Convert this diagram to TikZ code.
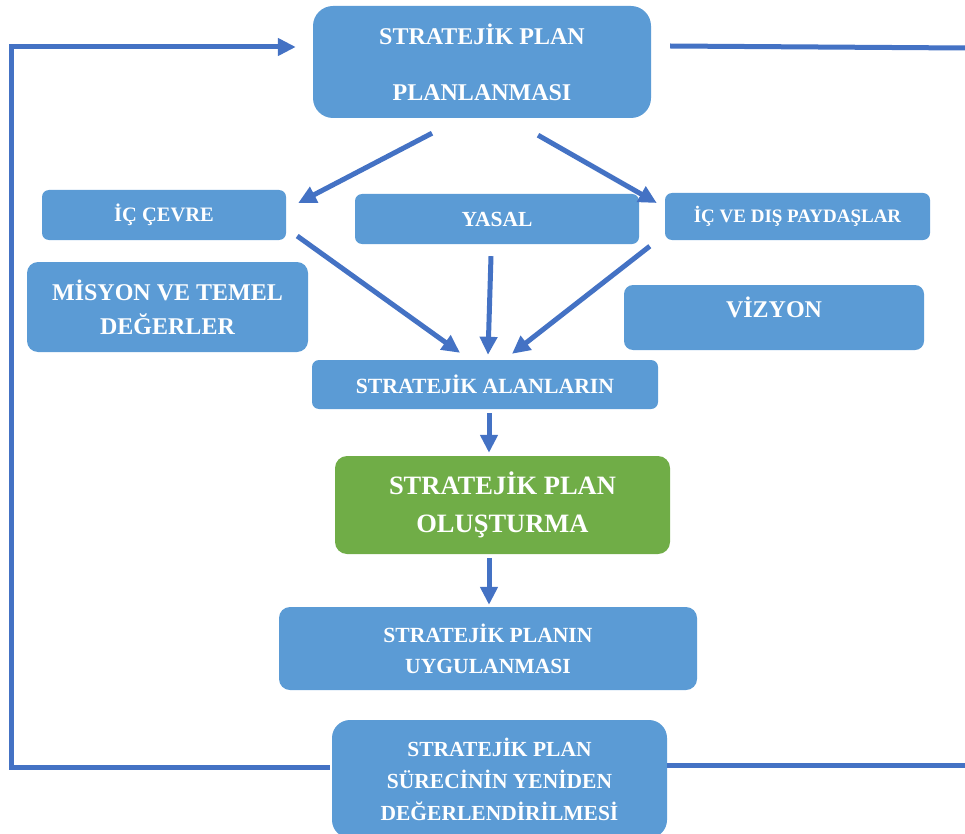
\documentclass[tikz,border=0pt]{standalone}
\usepackage{fontspec}
\setmainfont{Liberation Serif}
\usepackage{xcolor}
\usetikzlibrary{arrows.meta, calc}
\definecolor{boxblue}{HTML}{5B9BD5}
\definecolor{lineblue}{HTML}{4472C4}
\definecolor{boxgreen}{HTML}{70AD47}

\begin{document}
\begin{tikzpicture}[x=1pt, y=-1pt,
    box/.style={fill=boxblue, text=white, rounded corners=7pt, align=center, inner sep=0pt, font=\bfseries},
    greenbox/.style={box, fill=boxgreen},
    arr/.style={draw=lineblue, line width=5pt, -{Triangle[length=18pt, width=17pt]}},
    link/.style={draw=lineblue, line width=5pt}]
\path[use as bounding box, clip] (0,0) rectangle (965,834);

% Top box
\node[box, rounded corners=20pt, minimum width=338pt, minimum height=112pt,
    font=\bfseries\fontsize{24}{56}\selectfont] (plan) at (482,62) {STRATEJİK PLAN\\PLANLANMASI};

% Second row
\node[box, minimum width=244pt, minimum height=50pt,
    font=\bfseries\fontsize{20.5}{24}\selectfont] (cevre) at (164,215) {İÇ ÇEVRE};
\node[box, minimum width=284pt, minimum height=50pt,
    font=\bfseries\fontsize{21.5}{24}\selectfont] (yasal) at (497,219) {YASAL};
\node[box, minimum width=265pt, minimum height=47pt,
    font=\bfseries\fontsize{19}{22}\selectfont] (paydas) at (797.5,216.5) {İÇ VE DIŞ PAYDAŞLAR};

% Side boxes
\node[box, rounded corners=11pt, minimum width=281pt, minimum height=90pt,
    font=\bfseries\fontsize{24}{34}\selectfont] (misyon) at (167.5,307) {MİSYON VE TEMEL\\DEĞERLER};
\node[box, rounded corners=9pt, minimum width=300pt, minimum height=65pt,
    font=\bfseries\fontsize{24}{28}\selectfont] (vizyon) at (774,317.5) {\raisebox{0pt}[0pt][0pt]{VİZYON}};

% Middle column
\node[box, minimum width=346pt, minimum height=49pt,
    font=\bfseries\fontsize{21.7}{26}\selectfont] (alan) at (485,384.5) {STRATEJİK ALANLARIN};
\node[greenbox, rounded corners=12pt, minimum width=335pt, minimum height=98pt,
    font=\bfseries\fontsize{26.5}{38}\selectfont] (olustur) at (502.5,505) {STRATEJİK PLAN\\OLUŞTURMA};
\node[box, rounded corners=11pt, minimum width=418pt, minimum height=83pt,
    font=\bfseries\fontsize{21.6}{31}\selectfont] (uygula) at (488,648.5) {STRATEJİK PLANIN\\UYGULANMASI};
\node[box, rounded corners=18pt, minimum width=335pt, minimum height=118pt,
    font=\bfseries\fontsize{21.5}{32}\selectfont] (surec) at (499.5,779) {STRATEJİK PLAN\\SÜRECİNİN YENİDEN\\DEĞERLENDİRİLMESİ};

% Arrows
\draw[arr] ($(plan.south)+(-50,15)$) -- ($(cevre.east)+(12,-12)$);
\draw[arr] ($(plan.south)+(56,17)$) -- ($(paydas.west)+(-8,-13.5)$);
\draw[arr] ($(cevre.east)+(11,21)$) -- ($(alan.north)+(-25,-7)$);
\draw[arr] ($(yasal.south)+(-6,12)$) -- ($(alan.north)+(3,-5)$);
\draw[arr] ($(paydas.south west)+(-15,6)$) -- ($(alan.north)+(27,-6)$);
\draw[arr] ($(alan.south)+(4,4)$) -- ($(olustur.north)+(-13.5,-3)$);
\draw[arr] ($(olustur.south)+(-13.5,4)$) -- ($(uygula.north)+(1,-2)$);

% Feedback loop
\coordinate (loopleft) at (11,47);
\coordinate (toprt) at (965,48);
\coordinate (botrt) at (965,765);
\draw[arr] ($(surec.west)+(-2,-12)$) -| (loopleft) -- ($(plan.west)+(-17,-15)$);
\draw[link] ($(plan.east)+(19,-16)$) -- (toprt);
\draw[link] ($(surec.east)+(0,-14)$) -- (botrt);
\end{tikzpicture}
\end{document}
